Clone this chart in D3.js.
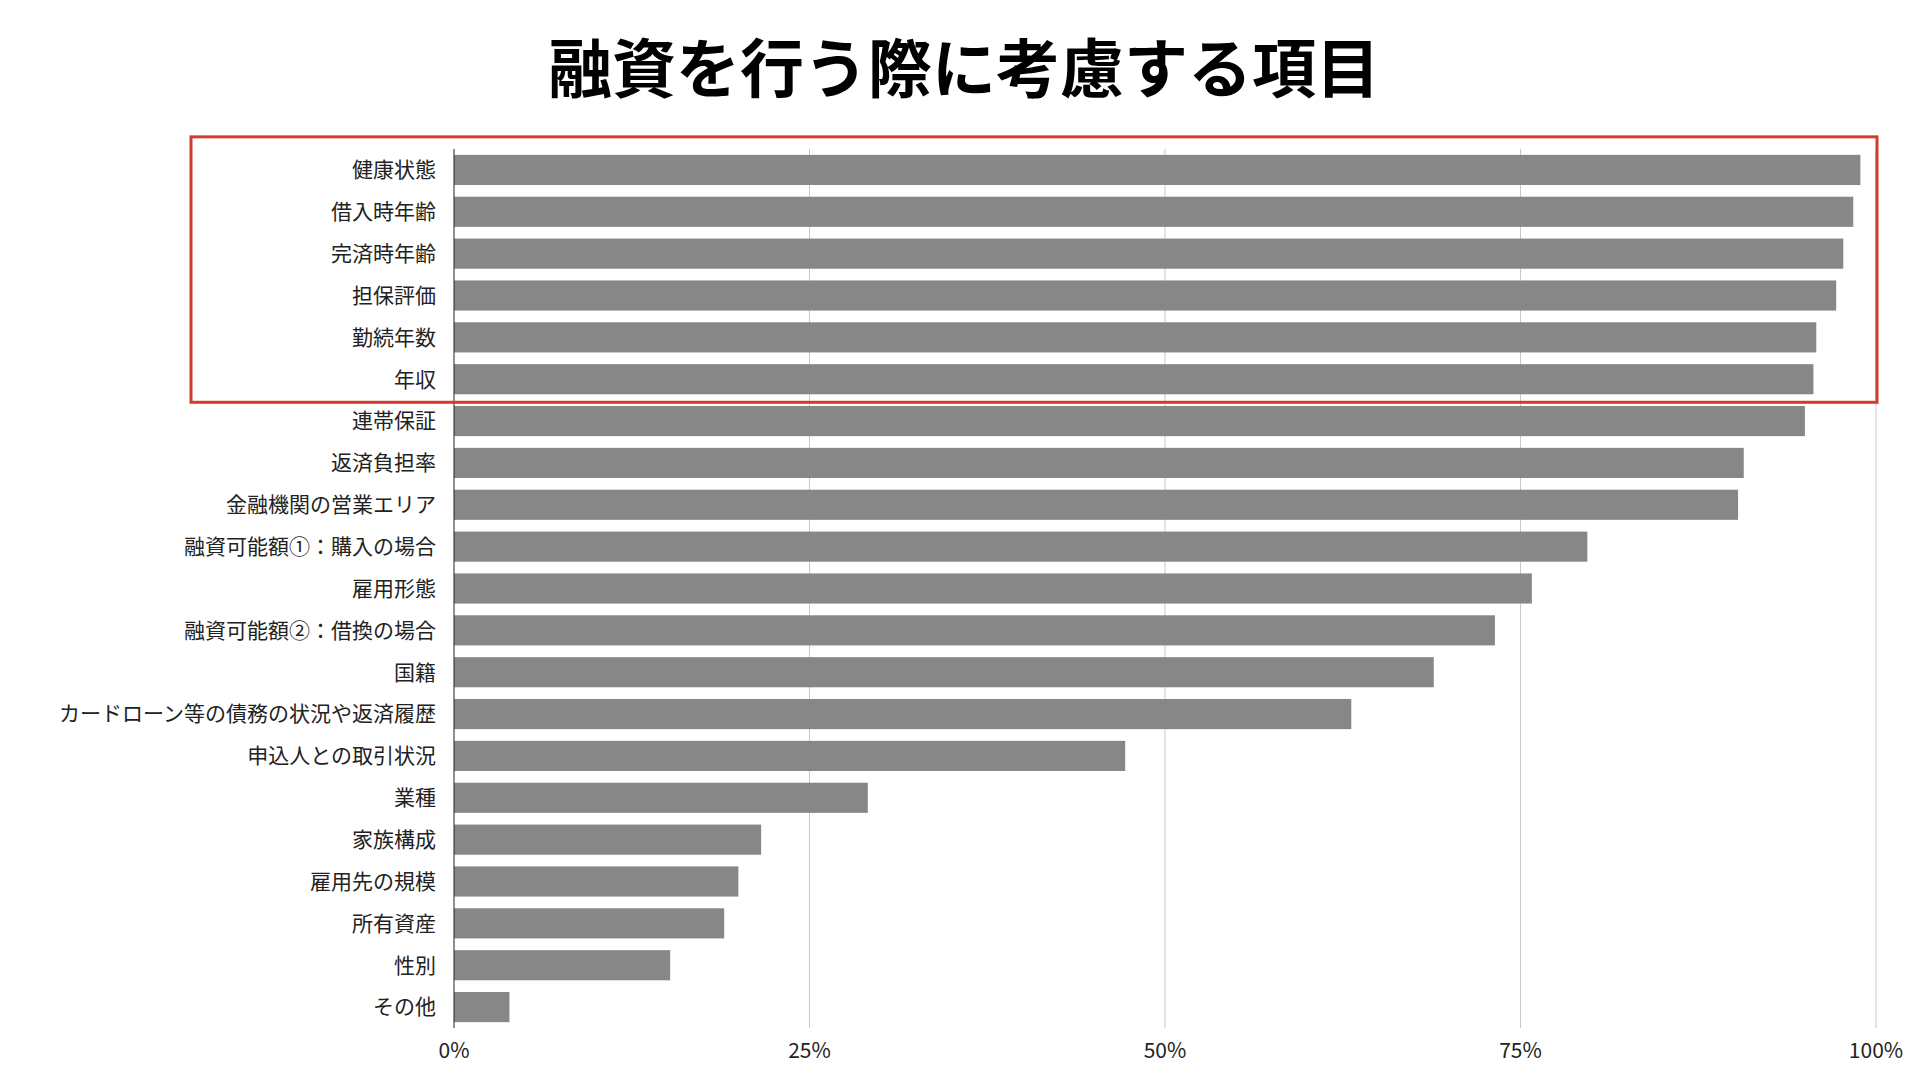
<!DOCTYPE html>
<html><head><meta charset="utf-8">
<script src="https://cdn.jsdelivr.net/npm/d3@7"></script>
<style>body{margin:0;background:#fff}text{font-family:"Noto Sans CJK JP",sans-serif}</style>
</head><body>
<script>
var width = 1920, height = 1080;
var categories = ["健康状態","借入時年齢","完済時年齢","担保評価","勤続年数","年収","連帯保証","返済負担率","金融機関の営業エリア","融資可能額①：購入の場合","雇用形態","融資可能額②：借換の場合","国籍","カードローン等の債務の状況や返済履歴","申込人との取引状況","業種","家族構成","雇用先の規模","所有資産","性別","その他"];
var values = [98.9,98.4,97.7,97.2,95.8,95.6,95.0,90.7,90.3,79.7,75.8,73.2,68.9,63.1,47.2,29.1,21.6,20.0,19.0,15.2,3.9];
var ticks = [0,25,50,75,100];

var svg = d3.select("body").append("svg").attr("width", width).attr("height", height);

var x = d3.scaleLinear().domain([0,100]).range([454,1876]);
var y = d3.scaleBand().domain(categories).range([149,1028]).paddingInner(0.28).paddingOuter(0.14);

// title
svg.append("text").attr("x", 964).attr("y", 92).attr("text-anchor","middle")
   .attr("font-size", 64).attr("font-weight", 700).text("融資を行う際に考慮する項目");

// gridlines
svg.selectAll(".grid").data(ticks.slice(1)).enter().append("line")
   .attr("x1", d => x(d)).attr("x2", d => x(d))
   .attr("y1", 149).attr("y2", 1028)
   .attr("stroke", "#c8c8c8").attr("stroke-width", 1);

// bars
svg.selectAll(".bar").data(values).enter().append("rect")
   .attr("x", x(0)).attr("y", (d,i) => y(categories[i]))
   .attr("width", d => x(d) - x(0)).attr("height", y.bandwidth())
   .attr("fill", "#878787");

// y axis line
svg.append("line").attr("x1", x(0)).attr("x2", x(0)).attr("y1", 149).attr("y2", 1028)
   .attr("stroke", "#222").attr("stroke-width", 1);

// category labels
svg.selectAll(".lab").data(categories).enter().append("text")
   .attr("x", 436).attr("y", d => y(d) + y.bandwidth()/2)
   .attr("dy", "0.35em").attr("text-anchor", "end")
   .attr("font-size", 21).attr("fill", "#222").text(d => d);

// tick labels
svg.selectAll(".tick").data(ticks).enter().append("text")
   .attr("x", d => x(d)).attr("y", 1058).attr("text-anchor","middle")
   .attr("font-size", 21).attr("fill", "#222").text(d => d + "%");

// highlight box around top six
svg.append("rect").attr("x", 191).attr("y", y(categories[0]) - 18)
   .attr("width", 1686).attr("height", y(categories[5]) + y.bandwidth() + 8 - (y(categories[0]) - 18))
   .attr("fill", "none").attr("stroke", "#d23a2a").attr("stroke-width", 3);
</script>
</body></html>
